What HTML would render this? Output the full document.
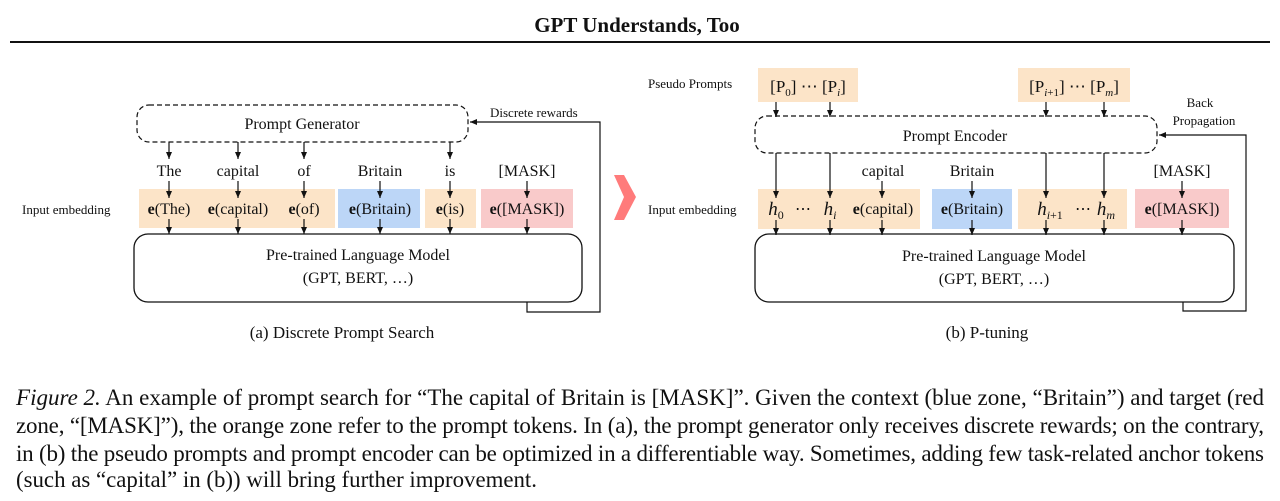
<!DOCTYPE html>
<html><head><meta charset="utf-8"><style>
html,body{margin:0;padding:0;background:#fff;width:1280px;height:501px;overflow:hidden}
svg{display:block}
text{font-family:"Liberation Serif",serif;fill:#111}
</style></head><body>
<svg width="1280" height="501" viewBox="0 0 1280 501">
<defs><marker id="a" markerWidth="8" markerHeight="8" refX="7" refY="4" orient="auto" markerUnits="userSpaceOnUse"><path d="M0,1 L7,4 L0,7 z" fill="#111"/></marker></defs>
<text x="637" y="32" font-size="21" font-weight="bold" text-anchor="middle">GPT Understands, Too</text>
<line x1="10" y1="42" x2="1270" y2="42" stroke="#111" stroke-width="2"/>

<!-- Left panel -->
<rect x="137" y="105" width="331" height="37" rx="12" fill="none" stroke="#111" stroke-width="1.2" stroke-dasharray="5,3"/>
<text x="302" y="129" font-size="16" text-anchor="middle">Prompt Generator</text>
<rect x="139" y="189" width="196" height="39" fill="#fce4c8"/>
<rect x="338" y="189" width="82" height="39" fill="#bcd6f7"/>
<rect x="425" y="189" width="51" height="39" fill="#fce4c8"/>
<rect x="481" y="189" width="92" height="39" fill="#f9caca"/>
<g font-size="16" text-anchor="middle">
<text x="169" y="176">The</text><text x="238" y="176">capital</text><text x="304" y="176">of</text><text x="380" y="176">Britain</text><text x="450" y="176">is</text><text x="527" y="176">[MASK]</text>
<text x="169" y="214"><tspan font-weight="bold">e</tspan>(The)</text>
<text x="238" y="214"><tspan font-weight="bold">e</tspan>(capital)</text>
<text x="304" y="214"><tspan font-weight="bold">e</tspan>(of)</text>
<text x="380" y="214"><tspan font-weight="bold">e</tspan>(Britain)</text>
<text x="450" y="214"><tspan font-weight="bold">e</tspan>(is)</text>
<text x="527" y="214"><tspan font-weight="bold">e</tspan>([MASK])</text>
</g>
<text x="22" y="214" font-size="13">Input embedding</text>
<g stroke="#111" stroke-width="1.2" marker-end="url(#a)">
<line x1="169" y1="142" x2="169" y2="159"/><line x1="238" y1="142" x2="238" y2="159"/><line x1="304" y1="142" x2="304" y2="159"/><line x1="450" y1="142" x2="450" y2="159"/>
<line x1="169" y1="181" x2="169" y2="198"/><line x1="238" y1="181" x2="238" y2="198"/><line x1="304" y1="181" x2="304" y2="198"/><line x1="380" y1="181" x2="380" y2="198"/><line x1="450" y1="181" x2="450" y2="198"/><line x1="527" y1="181" x2="527" y2="198"/>
<line x1="169" y1="219" x2="169" y2="234"/><line x1="238" y1="219" x2="238" y2="234"/><line x1="304" y1="219" x2="304" y2="234"/><line x1="380" y1="219" x2="380" y2="234"/><line x1="450" y1="219" x2="450" y2="234"/><line x1="527" y1="219" x2="527" y2="234"/>
</g>
<rect x="134" y="234" width="448" height="68" rx="14" fill="none" stroke="#111" stroke-width="1.3"/>
<text x="358" y="260" font-size="16" text-anchor="middle">Pre-trained Language Model</text>
<text x="358" y="283" font-size="16" text-anchor="middle">(GPT, BERT, …)</text>
<polyline points="527,302 527,312 600,312 600,122 470,122" fill="none" stroke="#111" stroke-width="1.2" marker-end="url(#a)"/>
<text x="490" y="117" font-size="13">Discrete rewards</text>
<text x="342" y="338" font-size="17" text-anchor="middle">(a) Discrete Prompt Search</text>

<path d="M614,175 L624,175 L636,197 L624,220 L614,220 L624,197 z" fill="#ff7b7b"/>

<!-- Right panel -->
<text x="648" y="88" font-size="13">Pseudo Prompts</text>
<rect x="758" y="68" width="100" height="34" fill="#fce4c8"/>
<rect x="1018" y="68" width="112" height="34" fill="#fce4c8"/>
<text x="808" y="92" font-size="17" text-anchor="middle">[P<tspan font-size="11" dy="4">0</tspan><tspan dy="-4">] ⋯ [P</tspan><tspan font-size="11" dy="4" font-style="italic">i</tspan><tspan dy="-4">]</tspan></text>
<text x="1074" y="92" font-size="17" text-anchor="middle">[P<tspan font-size="11" dy="4" font-style="italic">i</tspan><tspan font-size="11">+1</tspan><tspan dy="-4">] ⋯ [P</tspan><tspan font-size="11" dy="4" font-style="italic">m</tspan><tspan dy="-4">]</tspan></text>
<rect x="755" y="116" width="402" height="37" rx="12" fill="none" stroke="#111" stroke-width="1.2" stroke-dasharray="5,3"/>
<text x="955" y="141" font-size="16" text-anchor="middle">Prompt Encoder</text>
<text x="1200" y="107" font-size="13" text-anchor="middle">Back</text>
<text x="1204" y="125" font-size="13" text-anchor="middle">Propagation</text>
<rect x="758" y="189" width="162" height="40" fill="#fce4c8"/>
<rect x="932" y="189" width="80" height="40" fill="#bcd6f7"/>
<rect x="1018" y="189" width="109" height="40" fill="#fce4c8"/>
<rect x="1135" y="189" width="94" height="39" fill="#f9caca"/>
<g font-size="16" text-anchor="middle">
<text x="883" y="176">capital</text><text x="972" y="176">Britain</text><text x="1182" y="176">[MASK]</text>
<text x="776" y="215" font-style="italic" font-size="19">h<tspan font-size="12" font-style="normal" dy="4">0</tspan></text>
<text x="803" y="214">⋯</text>
<text x="830" y="215" font-style="italic" font-size="19">h<tspan font-size="12" dy="4">i</tspan></text>
<text x="883" y="214"><tspan font-weight="bold">e</tspan>(capital)</text>
<text x="972" y="214"><tspan font-weight="bold">e</tspan>(Britain)</text>
<text x="1050" y="215" font-style="italic" font-size="19">h<tspan font-size="12" dy="4">i</tspan><tspan font-size="12" font-style="normal">+1</tspan></text>
<text x="1083" y="214">⋯</text>
<text x="1106" y="215" font-style="italic" font-size="19">h<tspan font-size="12" dy="4">m</tspan></text>
<text x="1182" y="214"><tspan font-weight="bold">e</tspan>([MASK])</text>
</g>
<text x="648" y="214" font-size="13">Input embedding</text>
<g stroke="#111" stroke-width="1.2" marker-end="url(#a)">
<line x1="776" y1="102" x2="776" y2="117"/><line x1="830" y1="102" x2="830" y2="117"/><line x1="1046" y1="102" x2="1046" y2="117"/><line x1="1104" y1="102" x2="1104" y2="117"/>
<line x1="776" y1="153" x2="776" y2="198"/><line x1="830" y1="153" x2="830" y2="198"/><line x1="1046" y1="153" x2="1046" y2="198"/><line x1="1104" y1="153" x2="1104" y2="198"/>
<line x1="882" y1="181" x2="882" y2="198"/><line x1="972" y1="181" x2="972" y2="198"/><line x1="1182" y1="181" x2="1182" y2="198"/>
<line x1="776" y1="220" x2="776" y2="235"/><line x1="830" y1="220" x2="830" y2="235"/><line x1="882" y1="220" x2="882" y2="235"/><line x1="972" y1="220" x2="972" y2="235"/><line x1="1046" y1="220" x2="1046" y2="235"/><line x1="1104" y1="220" x2="1104" y2="235"/><line x1="1182" y1="220" x2="1182" y2="235"/>
</g>
<rect x="755" y="234" width="479" height="68" rx="14" fill="none" stroke="#111" stroke-width="1.3"/>
<text x="994" y="261" font-size="16" text-anchor="middle">Pre-trained Language Model</text>
<text x="994" y="284" font-size="16" text-anchor="middle">(GPT, BERT, …)</text>
<polyline points="1183,302 1183,311 1246,311 1246,135 1159,135" fill="none" stroke="#111" stroke-width="1.2" marker-end="url(#a)"/>
<text x="987" y="338" font-size="17" text-anchor="middle">(b) P-tuning</text>

<!-- Caption -->
<g font-size="23">
<text x="16" y="405" textLength="1248" lengthAdjust="spacing"><tspan font-style="italic">Figure 2.</tspan> An example of prompt search for “The capital of Britain is [MASK]”. Given the context (blue zone, “Britain”) and target (red</text>
<text x="16" y="433" textLength="1248" lengthAdjust="spacing">zone, “[MASK]”), the orange zone refer to the prompt tokens. In (a), the prompt generator only receives discrete rewards; on the contrary,</text>
<text x="16" y="461" textLength="1248" lengthAdjust="spacing">in (b) the pseudo prompts and prompt encoder can be optimized in a differentiable way. Sometimes, adding few task-related anchor tokens</text>
<text x="16" y="487" textLength="521" lengthAdjust="spacingAndGlyphs">(such as “capital” in (b)) will bring further improvement.</text>
</g>
</svg>
</body></html>
